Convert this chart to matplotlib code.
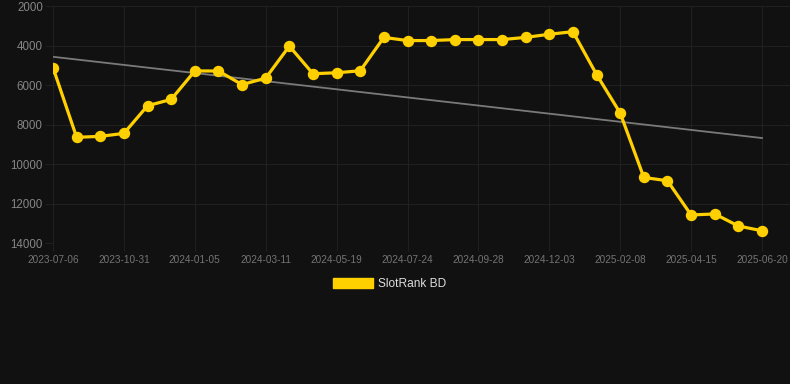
import numpy as np
import matplotlib
matplotlib.use("Agg")
import matplotlib.pyplot as plt
from matplotlib.patches import Patch

dates = ["2023-07-06", "2023-08-14", "2023-09-22", "2023-10-31", "2023-11-22", "2023-12-14",
         "2024-01-05", "2024-01-27", "2024-02-18", "2024-03-11", "2024-04-03", "2024-04-26",
         "2024-05-19", "2024-06-10", "2024-07-02", "2024-07-24", "2024-08-15", "2024-09-06",
         "2024-09-28", "2024-10-20", "2024-11-11", "2024-12-03", "2024-12-25", "2025-01-17",
         "2025-02-08", "2025-03-02", "2025-03-24", "2025-04-15", "2025-05-07", "2025-05-29",
         "2025-06-20"]
ranks = [5120, 8650, 8600, 8450, 7050, 6730,
         5290, 5290, 5980, 5650, 4030, 5430,
         5380, 5280, 3590, 3750, 3750, 3700,
         3700, 3700, 3590, 3430, 3300, 5470,
         7420, 10680, 10850, 12580, 12530, 13140,
         13380]
series_name = "SlotRank BD"
yticks = [2000, 4000, 6000, 8000, 10000, 12000, 14000]

BG = "#111111"
GRID = "#202020"
YELLOW = "#FFD000"

plt.rcParams['font.family'] = ['Liberation Sans', 'DejaVu Sans']

fig = plt.figure(figsize=(7.9, 3.84), dpi=100, facecolor=BG)
ax = fig.add_axes([53/790, 1-243/384, (790-53)/790, (243-6)/384], facecolor=BG)

x = np.arange(len(ranks))
# trend line (linear regression)
coef = np.polyfit(x, ranks, 1)
ax.plot(x, np.polyval(coef, x), color="#7a7a7a", lw=1.3, zorder=2)

ax.plot(x, ranks, color=YELLOW, lw=2.3, marker="o", markersize=7.2,
        markerfacecolor=YELLOW, markeredgecolor=YELLOW, zorder=3)

ax.set_ylim(14000, 2000)
step = (762-53)/30
ax.set_xlim(0, 30 + (790-762)/step)
ax.set_yticks(yticks)
ax.set_yticklabels([str(v) for v in yticks])
ax.set_xticks(x[::3])
ax.set_xticklabels(dates[::3])

ax.grid(True, color=GRID, lw=0.8)
ax.set_axisbelow(True)
for s in ax.spines.values():
    s.set_visible(False)
ax.tick_params(axis='y', colors=GRID, labelcolor="#868686", labelsize=8.3, length=5.8, width=0.8, pad=1.5)
ax.tick_params(axis='x', colors=GRID, labelcolor="#747474", labelsize=7.2, length=5.8, width=0.8, pad=3)

fig.legend(handles=[Patch(facecolor=YELLOW, edgecolor=YELLOW, label=series_name)],
           loc="center", bbox_to_anchor=(390/790, 1-284/384), frameon=False,
           fontsize=8.6, labelcolor="#dddddd", handlelength=3.3, handleheight=0.95,
           handletextpad=0.45)

fig.savefig("out.png", dpi=100, facecolor=BG)
